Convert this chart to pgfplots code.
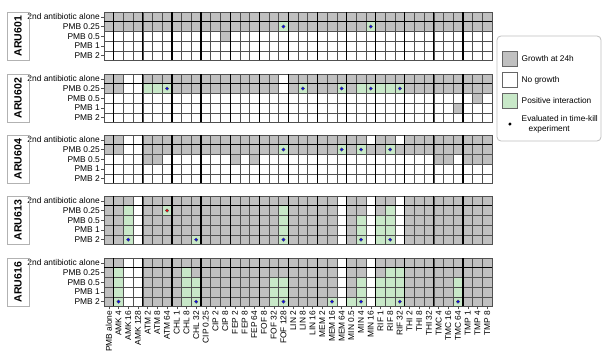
\documentclass[border=0pt]{standalone}
\usepackage{pgfplots}
\pgfplotsset{compat=1.18}
\usepackage{pgfplotstable}
\usepackage{fontspec}
\setmainfont{Liberation Sans}
\definecolor{growth}{RGB}{192,192,192}
\definecolor{posint}{RGB}{200,232,200}
\definecolor{thinline}{RGB}{80,80,80}
\newcommand\lbl{\fontsize{8.4bp}{10bp}\selectfont}

% codes: 0 = growth at 24h (grey), 1 = no growth (white), 2 = positive interaction (green)
% r0 = 2nd antibiotic alone, r1 = PMB 0.25, r2 = PMB 0.5, r3 = PMB 1, r4 = PMB 2
% d = y position of the time-kill dot (4 = top row ... 0 = PMB 2)
\pgfplotstableread{
x r0 r1 r2 r3 r4 d
0 0 0 1 1 1 nan
1 0 0 1 1 1 nan
2 0 0 1 1 1 nan
3 0 0 1 1 1 nan
4 0 0 1 1 1 nan
5 0 0 1 1 1 nan
6 0 0 1 1 1 nan
7 0 0 1 1 1 nan
8 0 0 1 1 1 nan
9 0 0 1 1 1 nan
10 0 0 1 1 1 nan
11 0 0 1 1 1 nan
12 0 0 0 1 1 nan
13 0 0 1 1 1 nan
14 0 0 1 1 1 nan
15 0 0 1 1 1 nan
16 0 0 1 1 1 nan
17 0 0 1 1 1 nan
18 0 2 1 1 1 3
19 0 0 1 1 1 nan
20 0 0 1 1 1 nan
21 0 0 1 1 1 nan
22 0 0 1 1 1 nan
23 0 0 1 1 1 nan
24 0 0 1 1 1 nan
25 0 0 1 1 1 nan
26 0 0 1 1 1 nan
27 0 2 1 1 1 3
28 0 0 1 1 1 nan
29 0 0 1 1 1 nan
30 0 0 1 1 1 nan
31 0 0 1 1 1 nan
32 0 0 1 1 1 nan
33 0 0 1 1 1 nan
34 0 0 1 1 1 nan
35 0 0 1 1 1 nan
36 0 0 1 1 1 nan
37 0 0 1 1 1 nan
38 0 0 1 1 1 nan
39 0 0 1 1 1 nan
}\tA

\pgfplotstableread{
x r0 r1 r2 r3 r4 d
0 0 0 1 1 1 nan
1 0 0 1 1 1 nan
2 1 1 1 1 1 nan
3 1 1 1 1 1 nan
4 0 2 1 1 1 nan
5 0 2 1 1 1 nan
6 0 2 1 1 1 3
7 0 0 1 1 1 nan
8 0 0 1 1 1 nan
9 0 0 1 1 1 nan
10 0 0 1 1 1 nan
11 0 0 1 1 1 nan
12 0 0 1 1 1 nan
13 0 0 1 1 1 nan
14 0 0 1 1 1 nan
15 0 0 1 1 1 nan
16 0 0 1 1 1 nan
17 0 0 1 1 1 nan
18 1 1 1 1 1 nan
19 0 0 1 1 1 nan
20 0 2 1 1 1 3
21 0 0 1 1 1 nan
22 0 0 1 1 1 nan
23 0 0 1 1 1 nan
24 0 2 1 1 1 3
25 0 0 1 1 1 nan
26 0 2 1 1 1 nan
27 0 2 1 1 1 3
28 0 2 1 1 1 nan
29 0 2 1 1 1 nan
30 0 2 1 1 1 3
31 0 0 1 1 1 nan
32 0 0 1 1 1 nan
33 0 0 1 1 1 nan
34 0 0 1 1 1 nan
35 0 0 1 1 1 nan
36 0 0 1 0 1 nan
37 0 0 1 1 1 nan
38 0 0 0 1 1 nan
39 0 0 1 1 1 nan
}\tB

\pgfplotstableread{
x r0 r1 r2 r3 r4 d
0 0 0 1 1 1 nan
1 0 0 1 1 1 nan
2 1 1 1 1 1 nan
3 1 1 1 1 1 nan
4 0 0 0 1 1 nan
5 0 0 0 1 1 nan
6 0 0 1 1 1 nan
7 0 0 1 1 1 nan
8 0 0 1 1 1 nan
9 0 0 1 1 1 nan
10 0 0 1 1 1 nan
11 0 0 1 1 1 nan
12 0 0 1 1 1 nan
13 0 0 0 1 1 nan
14 0 0 1 1 1 nan
15 0 0 0 1 1 nan
16 0 0 1 1 1 nan
17 0 0 1 1 1 nan
18 0 2 1 1 1 3
19 0 0 1 1 1 nan
20 0 0 1 1 1 nan
21 0 0 1 1 1 nan
22 0 0 1 1 1 nan
23 0 0 1 1 1 nan
24 0 2 1 1 1 3
25 0 0 1 1 1 nan
26 0 2 1 1 1 3
27 1 0 1 1 1 nan
28 0 0 1 1 1 nan
29 0 2 1 1 1 3
30 1 0 1 1 1 nan
31 0 0 1 1 1 nan
32 0 0 1 1 1 nan
33 0 0 1 1 1 nan
34 0 0 0 1 1 nan
35 0 0 0 1 1 nan
36 0 0 1 1 1 nan
37 0 0 0 1 1 nan
38 0 0 0 1 1 nan
39 0 0 0 1 1 nan
}\tC

\pgfplotstableread{
x r0 r1 r2 r3 r4 d
0 0 0 0 0 0 nan
1 0 0 0 0 0 nan
2 0 2 2 2 2 0
3 1 1 1 1 1 nan
4 0 0 0 0 0 nan
5 0 0 0 0 0 nan
6 0 2 0 0 0 3
7 0 0 0 0 0 nan
8 0 0 0 0 0 nan
9 0 0 0 0 2 0
10 0 0 0 0 0 nan
11 0 0 0 0 0 nan
12 0 0 0 0 0 nan
13 0 0 0 0 0 nan
14 0 0 0 0 0 nan
15 0 0 0 0 0 nan
16 0 0 0 0 0 nan
17 0 0 0 0 0 nan
18 0 2 2 2 2 0
19 0 0 0 0 0 nan
20 0 0 0 0 0 nan
21 0 0 0 0 0 nan
22 0 0 0 0 0 nan
23 0 0 0 0 0 nan
24 1 1 1 1 1 nan
25 0 0 0 0 0 nan
26 0 0 2 2 2 0
27 1 1 1 1 1 nan
28 0 0 2 2 2 nan
29 0 2 2 2 2 0
30 1 1 1 1 1 nan
31 0 0 0 0 0 nan
32 0 0 0 0 0 nan
33 0 0 0 0 0 nan
34 0 0 0 0 0 nan
35 0 0 0 0 0 nan
36 0 0 0 0 0 nan
37 0 0 0 0 0 nan
38 0 0 0 0 0 nan
39 0 0 0 0 0 nan
}\tD

\pgfplotstableread{
x r0 r1 r2 r3 r4 d
0 0 0 0 0 0 nan
1 0 2 2 2 2 0
2 1 1 1 1 1 nan
3 1 1 1 1 1 nan
4 0 0 0 0 0 nan
5 0 0 0 0 0 nan
6 0 0 0 0 0 nan
7 0 0 0 0 0 nan
8 0 2 2 2 2 nan
9 0 0 2 2 2 0
10 0 0 0 0 0 nan
11 0 0 0 0 0 nan
12 0 0 0 0 0 nan
13 0 0 0 0 0 nan
14 0 0 0 0 0 nan
15 0 0 0 0 0 nan
16 0 0 0 0 0 nan
17 0 0 2 2 2 nan
18 0 0 2 2 2 0
19 0 0 0 0 0 nan
20 0 0 0 0 0 nan
21 0 0 0 0 0 nan
22 0 0 0 0 0 nan
23 0 0 0 0 2 0
24 1 1 1 1 1 nan
25 0 0 0 0 2 nan
26 0 0 2 2 2 0
27 1 1 1 1 1 nan
28 0 0 2 2 2 nan
29 0 2 2 2 2 nan
30 0 2 2 2 2 0
31 0 0 0 0 0 nan
32 0 0 0 0 0 nan
33 0 0 0 0 0 nan
34 0 0 0 0 0 nan
35 0 0 0 0 0 nan
36 0 0 2 2 2 0
37 0 0 0 0 0 nan
38 0 0 0 0 0 nan
39 0 0 0 0 0 nan
}\tE

\pgfplotsset{
  geom/.style={
    at={(104bp,#1bp)}, anchor=south west,
    width=388bp, height=48.5bp, scale only axis,
    xmin=-0.5, xmax=39.5, ymin=-0.5, ymax=4.5,
  },
  panel/.style={
    geom=#1,
    axis on top, clip marker paths=true,
    ytick={0,...,4},
    yticklabels={PMB 2, PMB 1, PMB 0.5, PMB 0.25, 2nd antibiotic alone},
    extra x ticks={0.5,3.5,...,36.5},
    extra x tick labels={},
    extra x tick style={grid=major, major grid style={black, line width=1.2bp}, major tick length=0pt},
    extra y ticks={3.5},
    extra y tick labels={},
    extra y tick style={grid=major, major grid style={black, line width=1bp}, major tick length=0pt},
    tick align=outside, xtick pos=bottom, ytick pos=left,
    major tick length=3bp, minor tick length=0pt,
    tick style={thinline, line width=0.5bp},
    axis line style={thinline, line width=0.5bp},
    yticklabel style={font=\lbl, inner sep=1bp},
    xticklabel style={font=\lbl, rotate=90, anchor=east, inner sep=1bp},
    point meta min=0, point meta max=2,
    colormap={aru}{rgb255=(192,192,192) rgb255=(255,255,255) rgb255=(200,232,200)},
  },
  dotaxis/.style={geom=#1, hide axis, clip=false},
  cells/.style={forget plot, only marks, scatter, mark=square*, mark size=4.85bp,
    scatter/use mapped color={draw=thinline, fill=mapped color},
    mark options={line width=0.5bp}},
}
\tikzset{
  lab/.style={draw=gray!60, line width=0.8bp, rotate=90, minimum width=48.5bp,
    minimum height=22bp, inner sep=0pt, font=\fontsize{10.5bp}{12bp}\selectfont\bfseries},
}

\newcommand\drawpanel[1]{%
  \addplot[cells, point meta=\thisrow{r0}] table[x=x, y expr=4] {#1};
  \addplot[cells, point meta=\thisrow{r1}] table[x=x, y expr=3] {#1};
  \addplot[cells, point meta=\thisrow{r2}] table[x=x, y expr=2] {#1};
  \addplot[cells, point meta=\thisrow{r3}] table[x=x, y expr=1] {#1};
  \addplot[cells, point meta=\thisrow{r4}] table[x=x, y expr=0] {#1};
}
\newcommand\drawdots[1]{%
  \addplot[forget plot, only marks, color=black, mark=*, mark size=1.7bp,
    mark options={solid, draw=black, fill=black}] table[x=x, y=d] {#1};
}

\begin{document}
\begin{tikzpicture}
\useasboundingbox (0,0) rectangle (606bp,358bp);

\begin{axis}[panel=297.5, xtick=\empty,
  legend style={at={(1.0258,0.19)}, anchor=north west, draw=none, fill=none,
    font=\fontsize{8.3bp}{9.6bp}\selectfont, row sep=5.5bp, column sep=3bp,
    inner sep=0pt, nodes={inner sep=1bp, align=left, anchor=west}},
  legend cell align=left]
\drawpanel{\tA}
\addlegendimage{legend image code/.code={\draw[line width=0.5bp, draw=gray!80!black, fill=growth] (0bp,-7.5bp) rectangle (15bp,7.5bp);}}
\addlegendentry{Growth at 24h}
\addlegendimage{legend image code/.code={\draw[line width=0.5bp, draw=gray!80!black, fill=white] (0bp,-7.5bp) rectangle (15bp,7.5bp);}}
\addlegendentry{No growth}
\addlegendimage{legend image code/.code={\draw[line width=0.5bp, draw=gray!80!black, fill=posint] (0bp,-7.5bp) rectangle (15bp,7.5bp);}}
\addlegendentry{Positive interaction}
\addlegendimage{legend image code/.code={\path[draw=none, fill=none] (0bp,-7.5bp) rectangle (15bp,7.5bp); \fill[black, draw=none] (7.5bp,0bp) circle (1.7bp);}}
\addlegendentry{Evaluated in time-kill\\\hspace*{7bp}experiment}
\end{axis}
\begin{axis}[dotaxis=297.5]
\drawdots{\tA}
\end{axis}

\begin{axis}[panel=235.5, xtick=\empty]
\drawpanel{\tB}
\end{axis}
\begin{axis}[dotaxis=235.5]
\drawdots{\tB}
\end{axis}

\begin{axis}[panel=174.5, xtick=\empty]
\drawpanel{\tC}
\end{axis}
\begin{axis}[dotaxis=174.5]
\drawdots{\tC}
\end{axis}

\begin{axis}[panel=113.5, xtick=\empty]
\drawpanel{\tD}
\end{axis}
\begin{axis}[dotaxis=113.5]
\drawdots{\tD}
\end{axis}

\begin{axis}[panel=51.5, xtick={0,...,39},
  xticklabels={PMB alone, AMK 4, AMK 16, AMK 128, ATM 2, ATM 8, ATM 64, CHL 1, CHL 8, CHL 32, CIP 0.25, CIP 2, CIP 8, FEP 2, FEP 8, FEP 64, FOF 8, FOF 32, FOF 128, LIN 2, LIN 8, LIN 16, MEM 2, MEM 16, MEM 64, MIN 0.5, MIN 4, MIN 16, RIF 1, RIF 8, RIF 32, THI 2, THI 8, THI 32, TMC 4, TMC 16, TMC 64, TMP 1, TMP 4, TMP 8}]
\drawpanel{\tE}
\end{axis}
\begin{axis}[dotaxis=51.5]
\drawdots{\tE}
\end{axis}

\node[lab] at (18bp,321.75bp) {ARU601};
\node[lab] at (18bp,259.75bp) {ARU602};
\node[lab] at (18bp,198.75bp) {ARU604};
\node[lab] at (18bp,137.75bp) {ARU613};
\node[lab] at (18bp,75.75bp) {ARU616};

\draw[rounded corners=4bp, draw=gray!50, line width=0.8bp] (497bp,217bp) rectangle (601bp,322bp);
\end{tikzpicture}
\end{document}
